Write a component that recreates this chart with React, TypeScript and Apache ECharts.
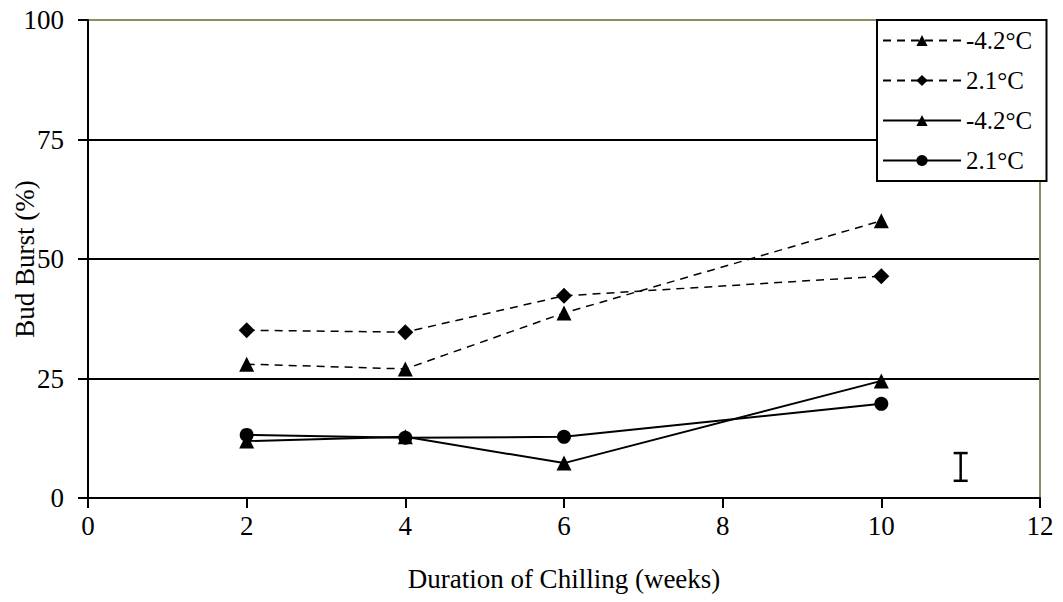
import React, { useEffect, useRef } from "react";
import * as echarts from "echarts";

// Duration of chilling (weeks)
const weeks = [2, 4, 6, 10];

// Bud burst (%) per treatment
const dashedMinus42 = [28.0, 27.0, 38.7, 58.0];
const dashedPlus21 = [35.1, 34.7, 42.3, 46.4];
const solidMinus42 = [11.9, 12.8, 7.3, 24.5];
const solidPlus21 = [13.2, 12.6, 12.8, 19.7];

// LSD bar: [x, low, high]
const lsdBar = [[11, 3.6, 9.4]];

const xTicks = [0, 2, 4, 6, 8, 10, 12];
const yTicks = [0, 25, 50, 75, 100];

const FONT = "Liberation Serif";
const OLIVE = "#8d8d62";

const pair = (ys: number[]) => weeks.map((w, i) => [w, ys[i]]);

export default function App() {
  const ref = useRef<HTMLDivElement>(null);

  useEffect(() => {
    if (!ref.current) return;
    const chart = echarts.init(ref.current, undefined, { renderer: "svg" });

    const dashed = { color: "#000", width: 1.5, type: [8, 6] as number[] };
    const solid = { color: "#000", width: 2, type: "solid" as const };

    chart.setOption({
      animation: false,
      backgroundColor: "#fff",
      grid: {
        left: 88,
        top: 20,
        right: 23,
        bottom: 104,
        containLabel: false,
        outerBoundsMode: "none",
      },
      xAxis: {
        type: "value",
        min: xTicks[0],
        max: xTicks[xTicks.length - 1],
        interval: 2,
        name: "Duration of Chilling (weeks)",
        nameLocation: "middle",
        nameGap: 67,
        nameMoveOverlap: false,
        nameTextStyle: { fontFamily: FONT, fontSize: 27, color: "#000" },
        axisLine: { show: true, onZero: false, lineStyle: { color: "#000", width: 2 } },
        axisTick: { show: true, inside: false, length: 10, lineStyle: { color: "#000", width: 2 } },
        axisLabel: { fontFamily: FONT, fontSize: 27, color: "#000", margin: 14 },
        splitLine: {
          show: true,
          lineStyle: {
            width: 2,
            color: xTicks.map((t, i) => (i === xTicks.length - 1 ? OLIVE : "rgba(0,0,0,0)")),
          },
        },
      },
      yAxis: {
        type: "value",
        min: yTicks[0],
        max: yTicks[yTicks.length - 1],
        interval: 25,
        name: "Bud Burst (%)",
        nameLocation: "middle",
        nameGap: 50,
        nameMoveOverlap: false,
        nameTextStyle: { fontFamily: FONT, fontSize: 27, color: "#000" },
        axisLine: { show: true, onZero: false, lineStyle: { color: "#000", width: 2 } },
        axisTick: { show: true, inside: false, length: 10, lineStyle: { color: "#000", width: 2 } },
        axisLabel: { fontFamily: FONT, fontSize: 27, color: "#000", margin: 24 },
        splitLine: {
          show: true,
          lineStyle: {
            width: 2,
            color: yTicks.map((t, i) => (i === yTicks.length - 1 ? OLIVE : "#000")),
          },
        },
      },
      legend: {
        orient: "vertical",
        left: 877,
        top: 20,
        backgroundColor: "#fff",
        borderColor: "#000",
        borderWidth: 2,
        borderRadius: 0,
        padding: [8, 8, 8, 5],
        itemWidth: 78,
        itemHeight: 14,
        itemGap: 15,
        textStyle: { fontFamily: FONT, fontSize: 25, color: "#000", lineHeight: 25 },
        data: ["-4.2°C ", "2.1°C ", "-4.2°C", "2.1°C"],
      },
      series: [
        {
          name: "-4.2°C ",
          type: "line",
          data: pair(dashedMinus42),
          symbol: "triangle",
          symbolSize: 15,
          itemStyle: { color: "#000" },
          lineStyle: dashed,
          z: 3,
        },
        {
          name: "2.1°C ",
          type: "line",
          data: pair(dashedPlus21),
          symbol: "diamond",
          symbolSize: 16,
          itemStyle: { color: "#000" },
          lineStyle: dashed,
          z: 3,
        },
        {
          name: "-4.2°C",
          type: "line",
          data: pair(solidMinus42),
          symbol: "triangle",
          symbolSize: 15,
          itemStyle: { color: "#000" },
          lineStyle: solid,
          z: 3,
        },
        {
          name: "2.1°C",
          type: "line",
          data: pair(solidPlus21),
          symbol: "circle",
          symbolSize: 14,
          itemStyle: { color: "#000" },
          lineStyle: solid,
          z: 3,
        },
        {
          type: "custom",
          data: lsdBar,
          silent: true,
          z: 3,
          renderItem: (params: any, api: any) => {
            const x = api.value(0);
            const lo = api.coord([x, api.value(1)]);
            const hi = api.coord([x, api.value(2)]);
            const half = 7;
            const style = { stroke: "#000", lineWidth: 2.5 };
            return {
              type: "group",
              children: [
                { type: "line", shape: { x1: lo[0], y1: lo[1], x2: hi[0], y2: hi[1] }, style },
                { type: "line", shape: { x1: lo[0] - half, y1: lo[1], x2: lo[0] + half, y2: lo[1] }, style },
                { type: "line", shape: { x1: hi[0] - half, y1: hi[1], x2: hi[0] + half, y2: hi[1] }, style },
              ],
            };
          },
        },
      ],
    });

    return () => chart.dispose();
  }, []);

  return <div ref={ref} style={{ width: 1063, height: 602, margin: -8 }} />;
}
